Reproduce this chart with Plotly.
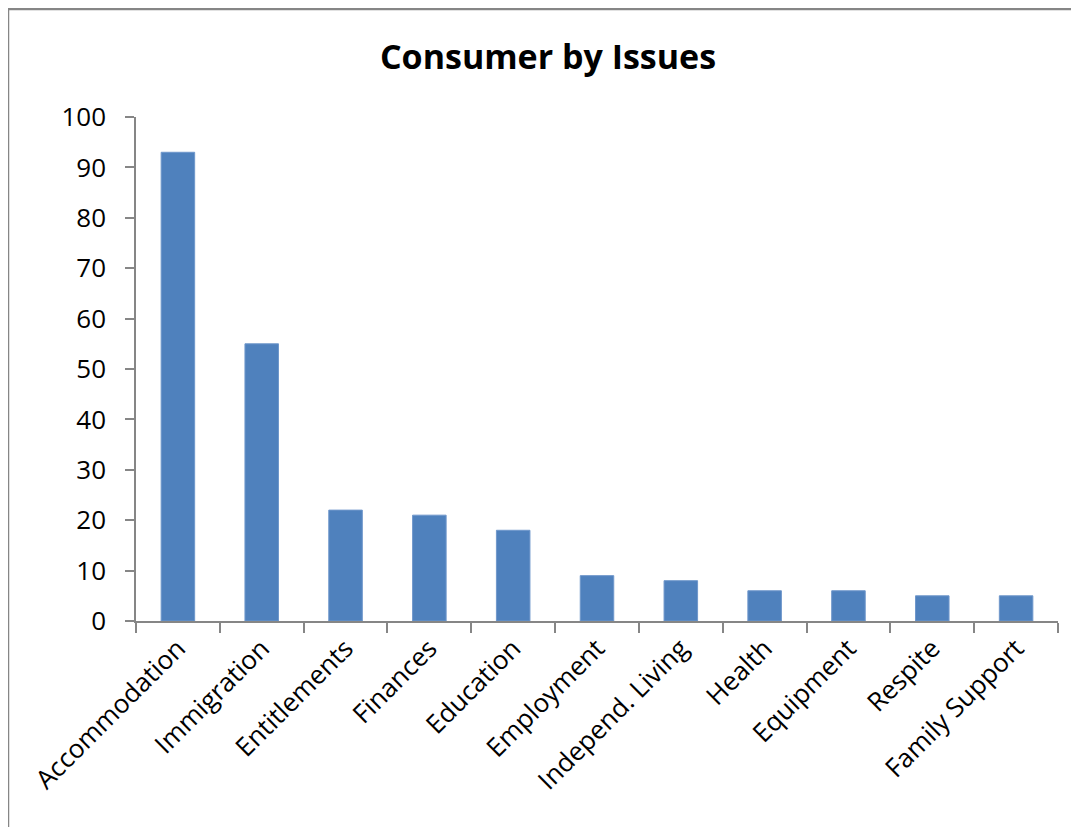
import plotly.graph_objects as go

categories = ["Accommodation", "Immigration", "Entitlements", "Finances", "Education",
              "Employment", "Independ. Living", "Health", "Equipment", "Respite", "Family Support"]
values = [93, 55, 22, 21, 18, 9, 8, 6, 6, 5, 5]
y_ticks = [0, 10, 20, 30, 40, 50, 60, 70, 80, 90, 100]

OFF = 8  # page body offset
W, H = 1079 - OFF, 827 - OFF
L, T = 136 - OFF, 117 - OFF
R = W - (1058 - OFF)
B = H - (621 - OFF)
pw, ph = W - L - R, H - T - B

font = "Open Sans, Liberation Sans, sans-serif"
grey = "#868686"

fig = go.Figure(go.Bar(
    x=categories, y=values,
    marker=dict(color="#4F81BD", line=dict(color="#6F97CB", width=1)),
    width=0.4,
))

fig.update_layout(
    width=W, height=H,
    margin=dict(l=L, r=R, t=T, b=B),
    paper_bgcolor="white", plot_bgcolor="white",
    showlegend=False,
    title=dict(text="<b>Consumer by Issues</b>", x=(548 - OFF) / W, xanchor="center",
               xref="container", yref="container", y=1 - (57 - OFF) / H, yanchor="middle",
               font=dict(family=font, size=34, color="black")),
    font=dict(family=font, size=26, color="black"),
)

fig.update_xaxes(
    type="category", tickson="boundaries", ticks="outside", ticklen=10, tickcolor=grey,
    tickwidth=1.5, showline=True, linecolor=grey, linewidth=1.5, tickangle=-45,
    showgrid=False, tickfont=dict(family=font, size=26, color="black"),
)
fig.update_yaxes(
    range=[0, 100], tickvals=y_ticks, ticks="outside", ticklen=9, tickcolor=grey,
    tickwidth=1.5, showline=True, linecolor=grey, linewidth=1.5, showgrid=False,
    zeroline=False, ticklabelstandoff=14, tickfont=dict(family=font, size=26, color="black"),
)

# outer chart border: only left and top edges are visible (chart cropped)
bx = (8 - OFF - L) / pw
by = 1 + (T - (9 - OFF)) / ph
fig.add_shape(type="line", xref="paper", yref="paper",
              x0=bx, x1=bx, y0=-(900 - (H - B)) / ph, y1=by,
              line=dict(color=grey, width=2.5), layer="below")
fig.add_shape(type="line", xref="paper", yref="paper",
              x0=bx, x1=(1200 - L) / pw, y0=by, y1=by,
              line=dict(color=grey, width=2.5), layer="below")

fig.write_html("out.html")
